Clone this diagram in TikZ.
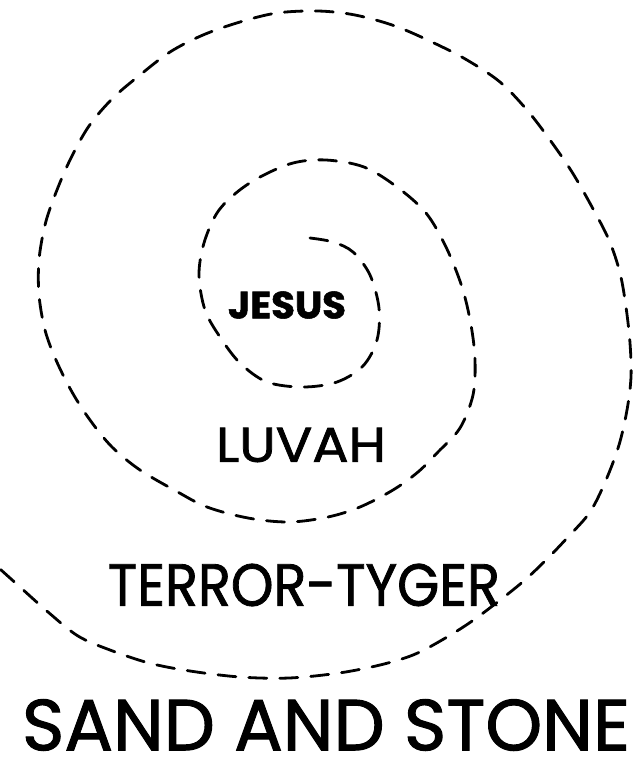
\documentclass[tikz,border=0pt]{standalone}
\usepackage{fontspec}
\usepackage{graphicx}
\setmainfont{Poppins}
\newfontfamily\letterfont[FakeBold=1.4]{Poppins}
\begin{document}
\begin{tikzpicture}[x=1pt,y=-1pt,
  spiral/.style={line width=2.8pt,dash pattern=on 18pt off 13pt,line cap=round},
  lbl/.style={inner sep=0pt,anchor=center,font=\letterfont}]
\useasboundingbox (0,0) rectangle (641,761);
\draw[spiral] plot[smooth,tension=0.55] coordinates {
(310,238) (333,242) (353,252) (370,275) (379,308) (377,340) (363,366)
(337,382) (303,387) (267,382) (240,363) (220,337) (205,310) (199,275)
(204,243) (217,213) (236,193) (260,177) (293,163) (326,160) (364,167)
(397,187) (426,213) (446,247) (462,287) (471,325) (475,360) (473,395)
(460,428) (438,452) (418,472) (393,490) (360,507) (328,517) (289,522)
(248,518) (207,507) (176,491) (140,470) (112,447) (90,420) (72,392)
(56,360) (45,330) (39,295) (39,260) (45,225) (55,195) (70,160)
(89,126) (113,98) (140,75) (170,52) (203,35) (240,22) (277,13)
(318,11) (355,15) (395,26) (434,43) (467,60) (500,82) (527,110)
(550,140) (572,172) (592,207) (609,240) (620,273) (626,307) (630,343)
(631,377) (627,410) (619,445) (606,480) (590,512) (568,537) (545,561)
(519,585) (475,619) (442,640) (413,655) (380,665) (339,673) (289,678)
(240,677) (190,671) (149,663) (110,650) (78,636) (48,612) (20,587) (0,569)};
\node[lbl] (jesus) at (287,305) {\resizebox{118pt}{27pt}{\bfseries JESUS}};
\node[lbl] (luvah) at (301,445) {\resizebox{170pt}{34pt}{LUVAH}};
\node[lbl] (terror) at (304,585) {\resizebox{392pt}{42pt}{TERROR-TYGER}};
\node[lbl] (sand) at (326,725) {\resizebox{608pt}{51pt}{SAND AND STONE}};
\end{tikzpicture}
\end{document}
